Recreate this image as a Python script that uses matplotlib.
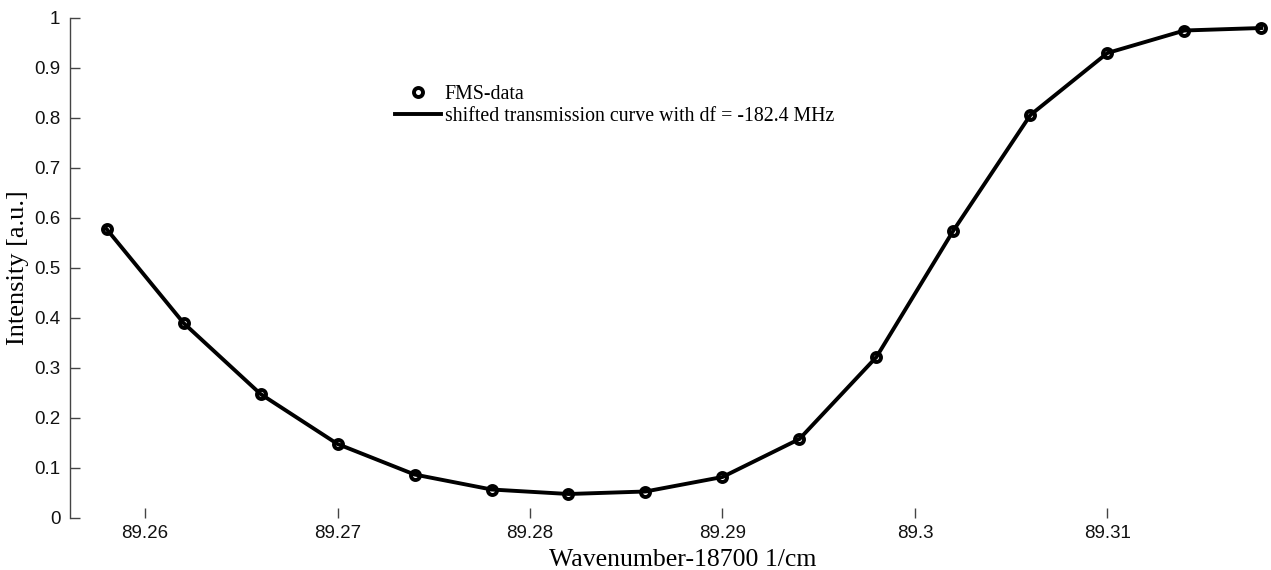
import matplotlib
matplotlib.use("Agg")
import matplotlib.pyplot as plt
import numpy as np

# Data
wavenumber = [89.258, 89.262, 89.266, 89.270, 89.274, 89.278, 89.282, 89.286,
              89.290, 89.294, 89.298, 89.302, 89.306, 89.310, 89.314, 89.318]
fms_data = [0.578, 0.390, 0.248, 0.148, 0.087, 0.057, 0.048, 0.053,
            0.082, 0.158, 0.322, 0.575, 0.806, 0.930, 0.975, 0.980]
curve = [0.578, 0.390, 0.248, 0.148, 0.087, 0.057, 0.048, 0.053,
         0.082, 0.158, 0.322, 0.575, 0.806, 0.930, 0.975, 0.980]
xticks = [89.26, 89.27, 89.28, 89.29, 89.30, 89.31]
xticklabels = ["89.26", "89.27", "89.28", "89.29", "89.3", "89.31"]
yticks = [0, 0.1, 0.2, 0.3, 0.4, 0.5, 0.6, 0.7, 0.8, 0.9, 1.0]
yticklabels = ["0", "0.1", "0.2", "0.3", "0.4", "0.5", "0.6", "0.7", "0.8", "0.9", "1"]

W, H = 1271, 570
fig = plt.figure(figsize=(W / 100, H / 100), dpi=100)
ax = fig.add_axes([70 / W, (H - 518) / H, (W - 70) / W, 500 / H])

l1, = ax.plot(wavenumber, fms_data, linestyle="none", marker="o", markersize=6.5,
              markerfacecolor="white", markeredgecolor="black", markeredgewidth=2.8,
              label="FMS-data", zorder=2)
l2, = ax.plot(wavenumber, curve, color="black", linewidth=2.8,
              label="shifted transmission curve with df = -182.4 MHz", zorder=3)

ax.set_xlim(89.2561, 89.3185)
ax.set_ylim(0, 1)
ax.set_xticks(xticks)
ax.set_xticklabels(xticklabels)
ax.set_yticks(yticks)
ax.set_yticklabels(yticklabels)

for s in ["top", "right", "bottom"]:
    ax.spines[s].set_visible(False)
ax.spines["left"].set_color("#444444")
ax.spines["left"].set_linewidth(1.0)

ax.tick_params(axis="both", direction="in", length=7, width=1, color="#444444",
               labelcolor="#111111")
ax.tick_params(axis="x", pad=5)
ax.tick_params(axis="y", pad=7)
for lab in ax.get_xticklabels() + ax.get_yticklabels():
    lab.set_fontfamily("Liberation Sans")
    lab.set_fontsize(13.5)

fig.text(683 / W, 1 - 560 / H, "Wavenumber-18700 1/cm", family="Liberation Serif",
         fontsize=18.5, ha="center", va="center")
fig.text(18 / W, 1 - 268 / H, "Intensity [a.u.]", family="Liberation Serif",
         fontsize=19, ha="center", va="center", rotation=90)

leg = fig.legend(handles=[l1, l2], loc="upper left",
                 bbox_to_anchor=(395 / W, 1 - 85 / H), frameon=False,
                 prop=dict(family="Liberation Serif", size=14.3),
                 handlelength=2.3, handletextpad=0.2, labelspacing=0.15,
                 borderaxespad=0, borderpad=0)

fig.savefig("out.png", dpi=100, facecolor="white")
